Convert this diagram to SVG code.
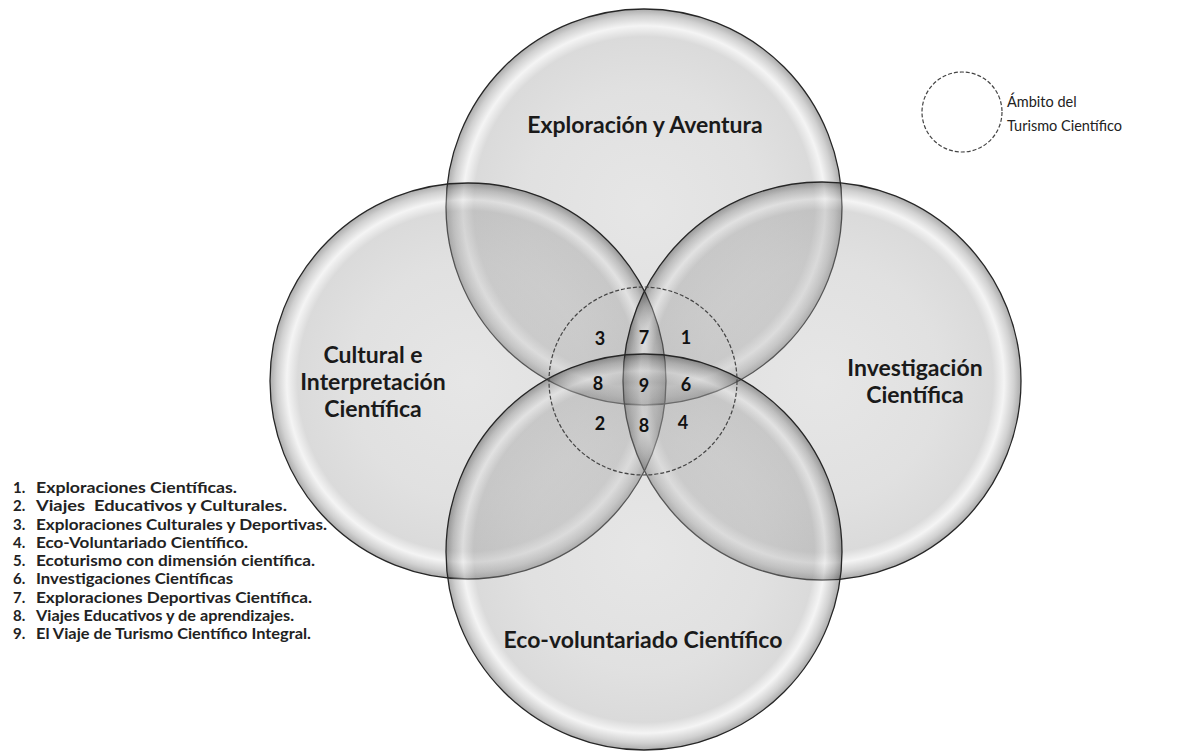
<svg xmlns="http://www.w3.org/2000/svg" width="1190" height="751" viewBox="0 0 1190 751">
  <defs>
    <radialGradient id="bubble" cx="0.5" cy="0.5" r="0.5">
      <stop offset="0" stop-color="#b8b8b8"/>
      <stop offset="0.6" stop-color="#a8a8a8"/>
      <stop offset="0.86" stop-color="#969696"/>
      <stop offset="0.915" stop-color="#e0e0e0"/>
      <stop offset="0.965" stop-color="#7a7a7a"/>
      <stop offset="1" stop-color="#101010"/>
    </radialGradient>
  </defs>
  <style>
    .bubble { fill: url(#bubble); fill-opacity: 0.35; stroke: #262626; stroke-width: 1.3; }
    .scope { fill: none; stroke: #444; stroke-width: 1.2; stroke-dasharray: 4 2; }
    .label { font-family: Lato, "Open Sans", "Liberation Sans", sans-serif; font-weight: 700; fill: #1a1a1a; text-anchor: middle; }
    .big { font-size: 23px; }
    .num { font-family: Lato, "Liberation Sans", sans-serif; font-weight: 700; font-size: 18px; fill: #111; text-anchor: middle; }
    .list { font-family: Lato, "Open Sans", "Liberation Sans", sans-serif; font-weight: 700; font-size: 15px; fill: #222; }
    .legend { font-family: Lato, "Open Sans", "Liberation Sans", sans-serif; font-size: 14.5px; fill: #222; }
  </style>
  <rect width="1190" height="751" fill="#ffffff"/>

  <g id="node-exploracion">
    <circle class="bubble" cx="644" cy="207" r="198"/>
    <text class="label big" x="645" y="133">Exploración y Aventura</text>
  </g>
  <g id="node-cultural">
    <circle class="bubble" cx="468" cy="381" r="198"/>
    <text class="label big" x="373" y="363">Cultural e</text>
    <text class="label big" x="373" y="390">Interpretación</text>
    <text class="label big" x="373" y="417">Científica</text>
  </g>
  <g id="node-investigacion">
    <circle class="bubble" cx="822" cy="381" r="199"/>
    <text class="label big" x="915" y="376">Investigación</text>
    <text class="label big" x="915" y="403">Científica</text>
  </g>
  <g id="node-ecovoluntariado">
    <circle class="bubble" cx="644" cy="552" r="198"/>
    <text class="label big" x="643" y="648">Eco-voluntariado Científico</text>
  </g>

  <g id="node-ambito">
    <circle class="scope" cx="643" cy="381" r="94"/>
    <text class="num" x="600" y="345">3</text>
    <text class="num" x="644" y="344">7</text>
    <text class="num" x="686" y="344">1</text>
    <text class="num" x="598" y="390">8</text>
    <text class="num" x="644" y="392">9</text>
    <text class="num" x="686" y="391">6</text>
    <text class="num" x="600" y="430">2</text>
    <text class="num" x="644" y="432">8</text>
    <text class="num" x="683" y="429">4</text>
  </g>

  <g id="legend">
    <circle class="scope" cx="962" cy="112" r="40"/>
    <text class="legend" x="1007" y="107">Ámbito del</text>
    <text class="legend" x="1007" y="131">Turismo Científico</text>
  </g>

  <g id="list">
    <text class="list" y="493"><tspan x="13">1.</tspan><tspan x="36" textLength="201" lengthAdjust="spacingAndGlyphs">Exploraciones Científicas.</tspan></text>
    <text class="list" y="511.25" xml:space="preserve"><tspan x="13">2.</tspan><tspan x="36" textLength="251" lengthAdjust="spacingAndGlyphs">Viajes  Educativos y Culturales.</tspan></text>
    <text class="list" y="529.5"><tspan x="13">3.</tspan><tspan x="36" textLength="291" lengthAdjust="spacingAndGlyphs">Exploraciones Culturales y Deportivas.</tspan></text>
    <text class="list" y="547.75"><tspan x="13">4.</tspan><tspan x="36" textLength="212" lengthAdjust="spacingAndGlyphs">Eco-Voluntariado Científico.</tspan></text>
    <text class="list" y="566"><tspan x="13">5.</tspan><tspan x="36" textLength="279" lengthAdjust="spacingAndGlyphs">Ecoturismo con dimensión científica.</tspan></text>
    <text class="list" y="584.25"><tspan x="13">6.</tspan><tspan x="36" textLength="197" lengthAdjust="spacingAndGlyphs">Investigaciones Científicas</tspan></text>
    <text class="list" y="602.5"><tspan x="13">7.</tspan><tspan x="36" textLength="276" lengthAdjust="spacingAndGlyphs">Exploraciones Deportivas Científica.</tspan></text>
    <text class="list" y="620.75"><tspan x="13">8.</tspan><tspan x="36" textLength="258" lengthAdjust="spacingAndGlyphs">Viajes Educativos y de aprendizajes.</tspan></text>
    <text class="list" y="639"><tspan x="13">9.</tspan><tspan x="36" textLength="275" lengthAdjust="spacingAndGlyphs">El Viaje de Turismo Científico Integral.</tspan></text>
  </g>

  <g id="connectors"/>
</svg>
